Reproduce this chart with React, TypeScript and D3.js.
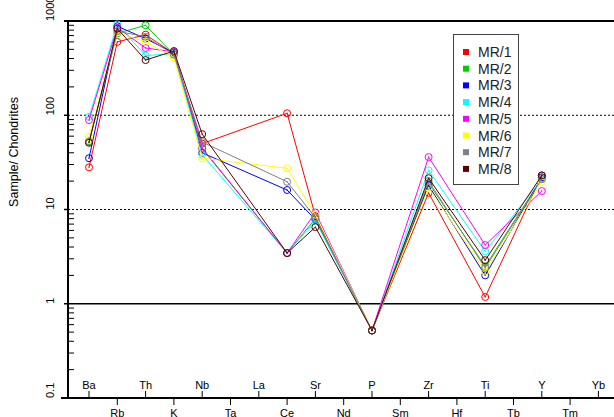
import React from "react";
import * as d3 from "d3";

const elements = ["Ba","Rb","Th","K","Nb","Ta","La","Ce","Sr","Nd","P","Sm","Zr","Hf","Ti","Tb","Y","Tm","Yb","Lu"];
const seriesNames = ["MR/1","MR/2","MR/3","MR/4","MR/5","MR/6","MR/7","MR/8"];
const seriesColors = ["#ff0000","#00cc00","#0000ff","#00ffff","#ff00ff","#ffff00","#808080","#5a0000"];
const usedElements = ["Ba","Rb","Th","K","Nb","Ce","Sr","P","Zr","Ti","Y"];
// values per series, aligned with usedElements
const mr1 = [28, 600, 716, 450, 50, 105, 8.5, 0.52, 15, 1.18, 23];
const mr2 = [53, 740, 900, 440, 44, 3.45, 8.0, 0.52, 19, 2.5, 21.5];
const mr3 = [35, 880, 650, 460, 40, 16.1, 7.8, 0.52, 18, 2.0, 22];
const mr4 = [96, 920, 430, 450, 38, 3.45, 7.6, 0.52, 26, 3.6, 21];
const mr5 = [89, 850, 517, 470, 45, 3.45, 9.3, 0.52, 36, 4.2, 15.7];
const mr6 = [59, 760, 600, 410, 35, 27.4, 8.8, 0.52, 17, 2.2, 19.6];
const mr7 = [52, 780, 680, 440, 52, 19.7, 8.2, 0.52, 20, 2.4, 21];
const mr8 = [51, 830, 385, 480, 63, 3.45, 6.5, 0.52, 21.5, 2.9, 23];
const seriesValues = [mr1, mr2, mr3, mr4, mr5, mr6, mr7, mr8];
const yTicks = [0.1, 1, 10, 100, 1000];
const yTickLabels = ["0.1", "1", "10", "100", "1000"];

const W = 614, H = 417;
const FONT = "'Liberation Sans', Arial, sans-serif";

export default function App() {
  const x = d3.scalePoint<string>().domain(elements).range([89, 89 + 28.3 * 19]);
  const y = d3.scaleLog().domain([0.1, 1000]).range([398, 21]);
  const axisX = 68;
  const line = d3.line<[string, number]>().x(d => x(d[0])!).y(d => y(d[1]));

  const minorTicks: number[] = [];
  [0.1, 1, 10, 100].forEach(dec => {
    for (let k = 2; k <= 9; k++) minorTicks.push(dec * k);
  });

  return (
    <svg width={W} height={H} style={{ position: "absolute", left: 0, top: 0, background: "#fff" }} fontFamily={FONT}>
      {/* gridlines */}
      <line x1={axisX - 4} x2={W} y1={y(1000)} y2={y(1000)} stroke="#000" strokeWidth={2} />
      <line x1={axisX - 4} x2={W} y1={y(1)} y2={y(1)} stroke="#000" strokeWidth={1.3} />
      {[10, 100].map(v => (
        <g key={v}>
          <line x1={axisX - 4} x2={axisX} y1={y(v)} y2={y(v)} stroke="#000" strokeWidth={1.5} />
          <line x1={axisX} x2={W} y1={y(v)} y2={y(v)} stroke="#000" strokeWidth={1} strokeDasharray="2,2" />
        </g>
      ))}
      {/* minor ticks */}
      {minorTicks.map((v, i) => (
        <line key={i} x1={axisX} x2={axisX + 6} y1={y(v)} y2={y(v)} stroke="#000" strokeWidth={1} />
      ))}
      {/* axes */}
      <line x1={axisX} x2={axisX} y1={y(1000) - 1} y2={y(0.1)} stroke="#000" strokeWidth={2} />
      <line x1={61} x2={W} y1={y(0.1)} y2={y(0.1)} stroke="#000" strokeWidth={2} />
      {/* y tick labels */}
      {yTicks.map((v, i) => (
        <text key={v} transform={`translate(50,${y(v)}) rotate(-90)`} textAnchor="start" dominantBaseline="central" fontSize={11} fill="#000">{yTickLabels[i]}</text>
      ))}
      <text transform={`translate(14,152) rotate(-90)`} textAnchor="middle" dominantBaseline="central" fontSize={12.5} fill="#000">Sample/ Chondrites</text>
      {/* x ticks */}
      {elements.map((e, i) => {
        const px = x(e)!;
        if (px + 8 > W) return null;
        const up = i % 2 === 0;
        return (
          <g key={e}>
            <line x1={px} x2={px} y1={398} y2={up ? 391 : 405} stroke="#000" strokeWidth={1} />
            <text x={px} y={up ? 389 : 416.5} textAnchor="middle" fontSize={11} fill="#000">{e}</text>
          </g>
        );
      })}
      {/* series */}
      {seriesValues.map((vals, si) => {
        const pts: [string, number][] = usedElements.map((e, j) => [e, vals[j]]);
        return (
          <g key={si}>
            <path d={line(pts)!} fill="none" stroke={seriesColors[si]} strokeWidth={1} />
            {pts.map((p, j) => (
              <g key={j}>
                <circle cx={x(p[0])} cy={y(p[1])} r={3.5} fill="none" stroke={seriesColors[si]} strokeWidth={1} />
                <circle cx={x(p[0])} cy={y(p[1])} r={0.7} fill={seriesColors[si]} />
              </g>
            ))}
          </g>
        );
      })}
      {/* legend */}
      <rect x={453.5} y={34.5} width={65} height={150} fill="#fff" stroke="#444" strokeWidth={1} />
      {seriesNames.map((n, i) => (
        <g key={n}>
          <rect x={463} y={49 + i * 16.7} width={6} height={6} fill={seriesColors[i]} />
          <text x={478} y={52 + i * 16.7} dominantBaseline="central" fontSize={14} fill="#222">{n}</text>
        </g>
      ))}
    </svg>
  );
}
